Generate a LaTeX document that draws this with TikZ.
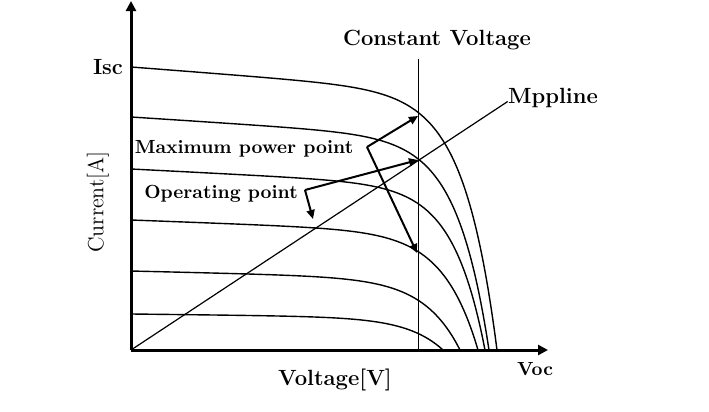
\documentclass[tikz,border=0pt]{standalone}
\usepackage{tikz}
\usetikzlibrary{arrows.meta}
\tikzstyle{lbl}=[font=\fontsize{11}{13}\selectfont\bfseries, inner sep=0pt]
\tikzstyle{note}=[font=\fontsize{9.5}{11}\selectfont\bfseries, inner sep=0pt]
\tikzstyle{axis}=[line width=1.5pt, -{Triangle[length=5pt,width=5pt]}]
\tikzstyle{pointer}=[line width=1pt, -{Triangle[length=4.5pt,width=4pt]}]
\tikzstyle{ivcurve}=[line width=0.7pt]
\tikzset{declare function={iv(\v,\m)=1-0.1*\v-0.9*(exp((\v-1)/\m)-exp(-1/\m))/(1-exp(-1/\m));
  pv(\t)=1-(1-\t)^2;}}

\begin{document}
\begin{tikzpicture}[x=0.5pt, y=-0.5pt]
    \useasboundingbox (0,0) rectangle (709,412);

    % axes
    \coordinate (O) at (131,350);
    \coordinate (ytip) at (131,1);
    \coordinate (xtip) at (548,350);
    \draw[axis] (O) -- (ytip);
    \draw[axis] (O) -- (xtip);

    % I-V curves
    \foreach \ys/\xe/\m in {67/497/0.09, 117/489/0.09, 169/485/0.09, 220/478/0.1, 271/460/0.11, 314/443/0.115}
      \draw[ivcurve] plot[domain=0:1, samples=90, smooth] ({131+(\xe-131)*pv(\x)}, {350-(350-\ys)*iv(pv(\x),\m)});

    % constant voltage line
    \coordinate (cvtop) at (418,59);
    \coordinate (cvbot) at (418,350);
    \draw[line width=0.5pt] (cvtop) -- (cvbot);

    \node[lbl] (cvlbl) at (437,40) {Constant Voltage};
    \node[lbl] (mpplbl) at (553,98) {Mppline};
    \draw[line width=0.6pt] (O) -- ([yshift=1pt]mpplbl.base west);

    \node[note] (maxlbl) at (244,149) {Maximum power point};
    \node[note] (oplbl) at (221,194) {Operating point};

    \coordinate (maxc) at (367,147);
    \coordinate (opc) at (305,190);
    \coordinate (p1) at (418,116);
    \coordinate (p2) at (418,160);
    \coordinate (p4) at (417,253);
    \coordinate (opt) at (313,219);
    \draw[pointer] (maxc) -- (p1);
    \draw[pointer] (maxc) -- (p4);
    \draw[pointer] (opc) -- (p2);
    \draw[pointer] (opc) -- (opt);

    \node[lbl] (isc) at (108,67) {Isc};
    \node[font=\fontsize{11}{13}\selectfont, inner sep=0pt, rotate=90] (ylbl) at (98,202) {Current[A]};
    \node[lbl] (xlbl) at (335,380) {Voltage[V]};
    \node[note] (voc) at (535,369) {Voc};
  \end{tikzpicture}
\end{document}
